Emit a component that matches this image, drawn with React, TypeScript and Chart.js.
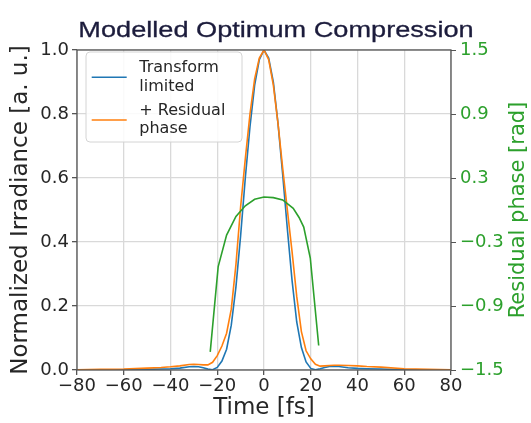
import React, { useEffect, useRef } from 'react';
import { Chart, registerables } from 'chart.js';

Chart.register(...registerables);

const chartTitle = 'Modelled Optimum Compression';
const xAxisTitle = 'Time [fs]';
const yAxisTitle = 'Normalized Irradiance [a. u.]';
const y2AxisTitle = 'Residual phase [rad]';
const legendLabels = [['Transform', 'limited'], ['+ Residual', 'phase']];

const times = [-80, -70, -60, -50, -44, -40, -36, -32, -30, -28, -26, -24, -22, -20, -18, -16, -14, -12, -10, -8, -6, -4, -2, 0, 2, 4, 6, 8, 10, 12, 14, 16, 18, 20, 22, 24, 26, 28, 30, 32, 36, 40, 44, 50, 60, 70, 80];
const transformLimited = [0.0005, 0.001, 0.001, 0.002, 0.003, 0.004, 0.006, 0.010, 0.011, 0.010, 0.007, 0.003, 0.001, 0.008, 0.028, 0.065, 0.14, 0.26, 0.42, 0.60, 0.76, 0.89, 0.97, 1.0, 0.975, 0.90, 0.77, 0.61, 0.44, 0.28, 0.15, 0.07, 0.025, 0.005, 0.001, 0.004, 0.008, 0.011, 0.012, 0.011, 0.007, 0.005, 0.004, 0.003, 0.001, 0.0005, 0.0];
const withResidualPhase = [0.001, 0.002, 0.003, 0.006, 0.008, 0.010, 0.013, 0.017, 0.018, 0.017, 0.016, 0.016, 0.024, 0.045, 0.075, 0.115, 0.19, 0.33, 0.51, 0.66, 0.80, 0.91, 0.975, 1.0, 0.97, 0.89, 0.77, 0.63, 0.50, 0.37, 0.23, 0.12, 0.06, 0.035, 0.018, 0.012, 0.013, 0.014, 0.015, 0.015, 0.014, 0.013, 0.011, 0.009, 0.004, 0.002, 0.001];

const phaseTimes = [-23, -19.6, -16, -12, -8, -4, 0, 4, 8, 12.5, 15, 17, 19.8, 23.4];
const phaseValues = [-1.33, -0.53, -0.235, -0.06, 0.04, 0.1, 0.122, 0.116, 0.094, 0.016, -0.07, -0.16, -0.45, -1.27];

const xMin = -80, xMax = 80, xStep = 20;
const yMin = 0, yMax = 1, yStep = 0.2;
const y2Min = -1.5, y2Max = 1.5, y2Step = 0.6;

const BLUE = '#1f77b4';
const ORANGE = '#ff7f0e';
const GREEN = '#2ca02c';
const TEXT = '#262626';
const GRID = '#d9d9d9';
const FRAME = '#555555';
const FONT = "'DejaVu Sans', sans-serif";

const minus = (s: string) => s.replace('-', '\u2212');

const titlePlugin = {
  id: 'customTitle',
  afterDraw(chart: any) {
    const ctx = chart.ctx;
    ctx.save();
    ctx.font = "22px 'Liberation Sans', Arial, sans-serif";
    ctx.fillStyle = '#1c1c3c';
    ctx.textAlign = 'center';
    ctx.textBaseline = 'alphabetic';
    ctx.translate(chart.width / 2 + 10.5, 37);
    ctx.scale(1.234, 1);
    ctx.fillText(chartTitle, 0, 0);
    ctx.strokeStyle = '#1c1c3c';
    ctx.lineWidth = 0.3;
    ctx.strokeText(chartTitle, 0, 0);
    ctx.restore();
  },
};

const rightTitlePlugin = {
  id: 'rightTitle',
  afterDraw(chart: any) {
    const { top, bottom } = chart.chartArea;
    const ctx = chart.ctx;
    ctx.save();
    ctx.font = `21px ${FONT}`;
    ctx.fillStyle = GREEN;
    ctx.textAlign = 'center';
    ctx.textBaseline = 'middle';
    ctx.translate(chart.width - 12, (top + bottom) / 2);
    ctx.rotate(-Math.PI / 2);
    ctx.fillText(y2AxisTitle, 0, 0);
    ctx.restore();
  },
};

const framePlugin = {
  id: 'frame',
  afterDatasetsDraw(chart: any) {
    const { left, top, right, bottom } = chart.chartArea;
    const ctx = chart.ctx;
    ctx.save();
    ctx.strokeStyle = FRAME;
    ctx.lineWidth = 1.3;
    ctx.strokeRect(left, top, right - left, bottom - top);
    ctx.restore();
  },
};

const legendPlugin = {
  id: 'customLegend',
  afterDraw(chart: any) {
    const { left, top } = chart.chartArea;
    const ctx = chart.ctx;
    ctx.save();
    const bx = left + 9, by = top + 2, bw = 156, bh = 90;
    ctx.beginPath();
    (ctx as any).roundRect(bx, by, bw, bh, 4);
    ctx.fillStyle = 'rgba(255,255,255,0.85)';
    ctx.fill();
    ctx.strokeStyle = '#d4d4d4';
    ctx.lineWidth = 1;
    ctx.stroke();
    const colors = [chart.data.datasets[0].borderColor, chart.data.datasets[1].borderColor];
    legendLabels.forEach((lines, i) => {
      const ly = top + 27.3 + i * 42.7;
      ctx.beginPath();
      ctx.strokeStyle = colors[i];
      ctx.lineWidth = 1.6;
      ctx.moveTo(left + 14.7, ly);
      ctx.lineTo(left + 49.7, ly);
      ctx.stroke();
      ctx.fillStyle = TEXT;
      ctx.font = `16px ${FONT}`;
      ctx.textAlign = 'left';
      ctx.textBaseline = 'alphabetic';
      ctx.fillText(lines[0], left + 62.3, ly - 5.3);
      ctx.fillText(lines[1], left + 62.3, ly + 13.2);
    });
    ctx.restore();
  },
};

export default function App() {
  const ref = useRef<HTMLCanvasElement | null>(null);
  useEffect(() => {
    document.body.style.margin = '0';
    if (!ref.current) return;
    const chart = new Chart(ref.current, {
      type: 'line',
      data: {
        datasets: [
          {
            label: legendLabels[0].join(' '),
            data: times.map((t, i) => ({ x: t, y: transformLimited[i] })),
            borderColor: BLUE,
            borderWidth: 1.6,
            pointRadius: 0,
            fill: false,
            tension: 0,
            yAxisID: 'y',
            order: 3,
          },
          {
            label: legendLabels[1].join(' '),
            data: times.map((t, i) => ({ x: t, y: withResidualPhase[i] })),
            borderColor: ORANGE,
            borderWidth: 1.6,
            pointRadius: 0,
            fill: false,
            tension: 0,
            yAxisID: 'y',
            order: 2,
          },
          {
            label: 'Residual phase',
            data: phaseTimes.map((t, i) => ({ x: t, y: phaseValues[i] })),
            borderColor: GREEN,
            borderWidth: 1.6,
            pointRadius: 0,
            fill: false,
            tension: 0,
            yAxisID: 'y2',
            order: 1,
          },
        ],
      },
      options: {
        animation: false,
        responsive: true,
        maintainAspectRatio: false,
        layout: { padding: { top: 50, left: 0, right: 0, bottom: 0 } },
        plugins: {
          legend: { display: false },
          title: { display: false },
          tooltip: { enabled: false },
        },
        scales: {
          x: {
            type: 'linear',
            min: xMin,
            max: xMax,
            afterFit: (s: any) => { s.height = 53; },
            ticks: {
              stepSize: xStep,
              color: TEXT,
              font: { family: FONT, size: 18 },
              padding: 1,
              maxRotation: 0,
              callback: (v: any) => minus(String(v)),
            },
            grid: { color: GRID, lineWidth: 1.3, tickColor: FRAME, tickLength: 5 },
            border: { display: false },
            title: {
              display: true,
              text: xAxisTitle,
              color: TEXT,
              font: { family: FONT, size: 23, lineHeight: 1 },
              padding: { top: 0, bottom: 3 },
            },
          },
          y: {
            type: 'linear',
            position: 'left',
            min: yMin,
            max: yMax,
            afterFit: (s: any) => { s.width = 77; },
            ticks: {
              stepSize: yStep,
              color: TEXT,
              font: { family: FONT, size: 18 },
              padding: 3,
              callback: (v: any) => Number(v).toFixed(1),
            },
            grid: { color: GRID, lineWidth: 1.3, tickColor: FRAME, tickLength: 5 },
            border: { display: false },
            title: {
              display: true,
              text: yAxisTitle,
              color: TEXT,
              font: { family: FONT, size: 23, lineHeight: 1 },
              padding: { top: 10, bottom: 0 },
            },
          },
          y2: {
            type: 'linear',
            position: 'right',
            min: y2Min,
            max: y2Max,
            afterFit: (s: any) => { s.width = 80; },
            ticks: {
              stepSize: y2Step,
              color: GREEN,
              font: { family: FONT, size: 18 },
              padding: 4,
              callback: (v: any) => minus(Number(v).toFixed(1)),
            },
            grid: { drawOnChartArea: false, tickColor: FRAME, tickLength: 5 },
            border: { display: false },
            title: { display: false },
          },
        },
      } as any,
      plugins: [titlePlugin, framePlugin, legendPlugin, rightTitlePlugin],
    });
    return () => chart.destroy();
  }, []);
  return (
    <div style={{ width: 531, height: 423, position: 'relative' }}>
      <canvas ref={ref} />
    </div>
  );
}
